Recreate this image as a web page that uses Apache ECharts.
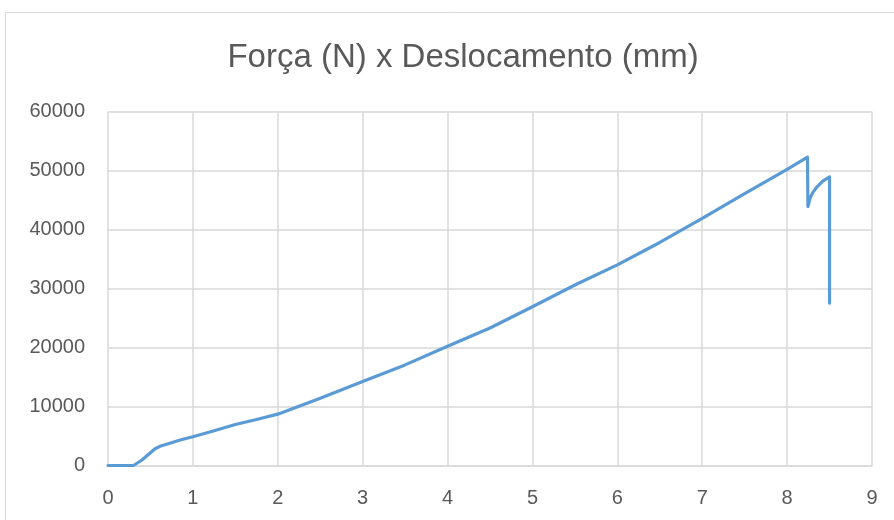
<!DOCTYPE html>
<html>
<head>
<meta charset="utf-8">
<script src="https://cdn.jsdelivr.net/npm/echarts@6/dist/echarts.min.js"></script>
<style>html,body{margin:0;padding:0;background:#fff;}#c{width:894px;height:520px;}</style>
</head>
<body>
<div id="c"></div>
<script>
var titleText = 'Força (N) x Deslocamento (mm)';
var xTicks = [0,1,2,3,4,5,6,7,8,9];
var yTicks = [0,10000,20000,30000,40000,50000,60000];
var deslocamento = [0, 0.3, 0.4, 0.5, 0.55, 0.62, 0.7, 0.85, 1, 1.25, 1.5, 1.75, 2, 2.5, 3, 3.5, 4, 4.5, 5, 5.5, 6, 6.5, 7, 7.5, 8, 8.24, 8.245, 8.27, 8.3, 8.35, 8.42, 8.5, 8.5];
var forca = [0, 0, 930, 2170, 2800, 3300, 3640, 4320, 4880, 5900, 6950, 7800, 8700, 11400, 14250, 17050, 20200, 23300, 26900, 30600, 34000, 37800, 41900, 46100, 50200, 52250, 43900, 45300, 46200, 47200, 48200, 48900, 27500];

var pts = deslocamento.map(function(x,i){return [x, forca[i]];});
var chart = echarts.init(document.getElementById('c'), null, {renderer:'canvas'});
var font = 'Liberation Sans';
chart.setOption({
  backgroundColor:'#fff',
  animation:false,
  graphic:[{type:'rect', shape:{x:5.5,y:12.5,width:900,height:520}, style:{fill:'none', stroke:'#D9D9D9', lineWidth:1}, z:-1}],
  title:{text:titleText, left:458, top:36, textAlign:'center',
    textStyle:{fontFamily:font, fontSize:33, fontWeight:'normal', color:'#595959'}},
  grid:{left:108, right:22, top:111.5, bottom:54.5, containLabel:false},
  xAxis:{type:'value', min:xTicks[0], max:xTicks[xTicks.length-1], interval:1,
    axisLine:{show:true, lineStyle:{color:'#D9D9D9', width:1.5}},
    axisTick:{show:false},
    splitLine:{show:true, lineStyle:{color:'#D9D9D9', width:1.5}},
    axisLabel:{fontFamily:font, fontSize:20, color:'#595959', margin:23}},
  yAxis:{type:'value', min:yTicks[0], max:yTicks[yTicks.length-1], interval:10000,
    axisLine:{show:false}, axisTick:{show:false},
    splitLine:{show:true, lineStyle:{color:'#D9D9D9', width:1.5}},
    axisLabel:{fontFamily:font, fontSize:20, color:'#595959', margin:23,
      formatter:function(v){return String(v);}}},
  series:[{type:'line', data:pts, showSymbol:false, symbol:'none',
    lineStyle:{color:'#5B9BD5', width:3.2, cap:'round', join:'round'}}]
});
</script>
</body>
</html>
